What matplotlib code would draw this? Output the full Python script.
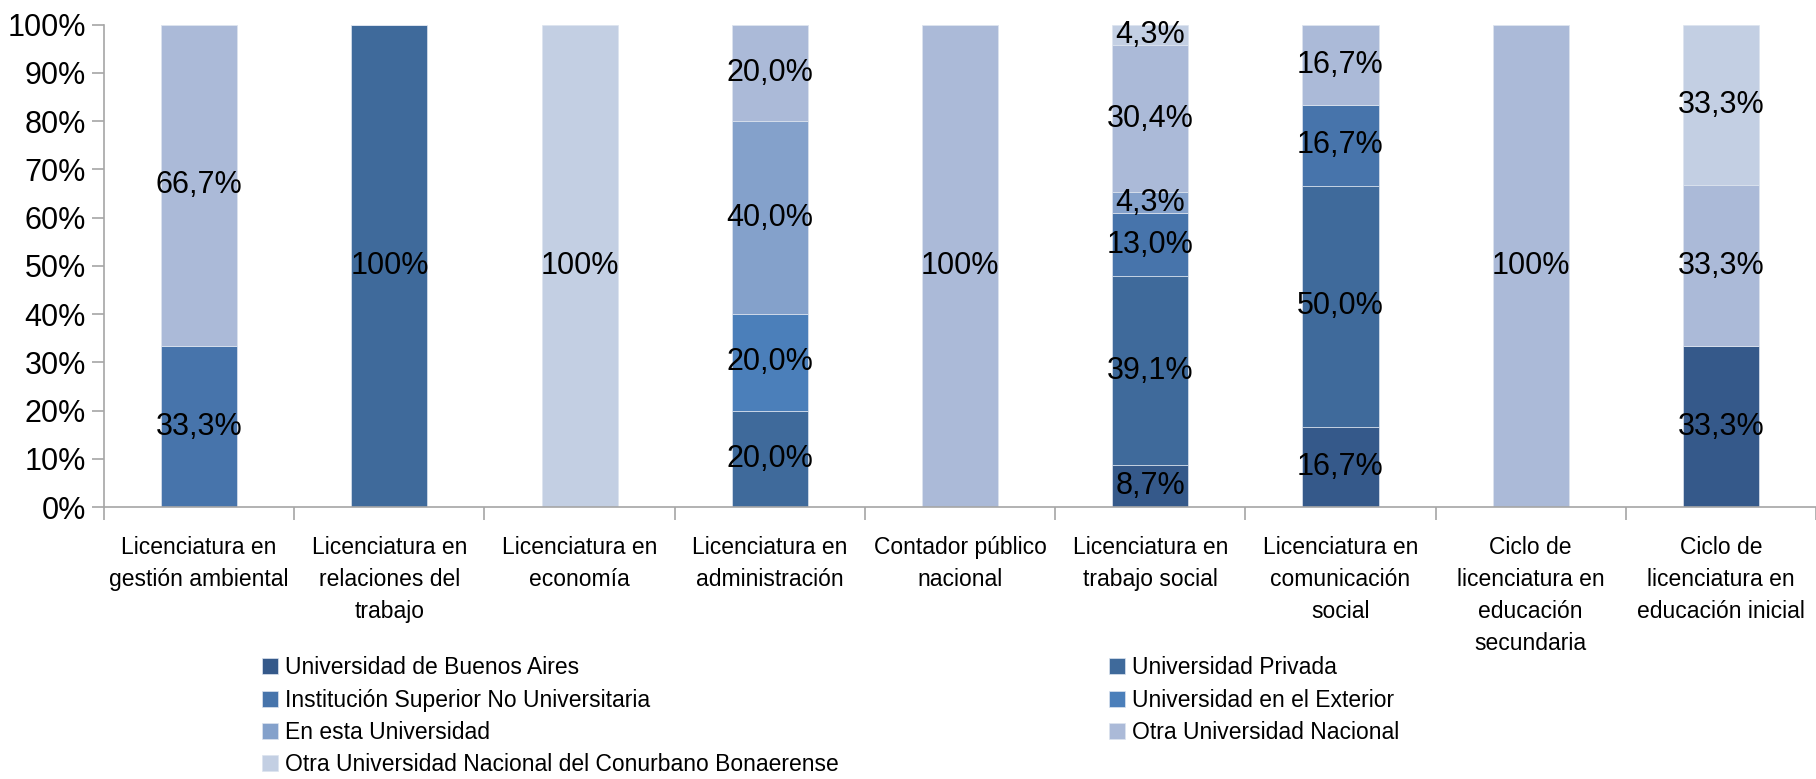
import matplotlib
matplotlib.use("Agg")
import matplotlib.pyplot as plt
import numpy as np

plt.rcParams['font.family'] = ['Liberation Sans', 'DejaVu Sans']

# ----------------------------
# Data
# ----------------------------

categories = [
    "Licenciatura en\ngestión ambiental",
    "Licenciatura en\nrelaciones del\ntrabajo",
    "Licenciatura en\neconomía",
    "Licenciatura en\nadministración",
    "Contador público\nnacional",
    "Licenciatura en\ntrabajo social",
    "Licenciatura en\ncomunicación\nsocial",
    "Ciclo de\nlicenciatura en\neducación\nsecundaria",
    "Ciclo de\nlicenciatura en\neducación inicial",
]

series_names = [
    "Universidad de Buenos Aires",
    "Universidad Privada",
    "Institución Superior No Universitaria",
    "Universidad en el Exterior",
    "En esta Universidad",
    "Otra Universidad Nacional",
    "Otra Universidad Nacional del Conurbano Bonaerense",
]

uba = [0, 0, 0, 0, 0, 8.7, 16.7, 0, 33.3]
privada = [0, 100, 0, 20.0, 0, 39.1, 50.0, 0, 0]
isnu = [33.3, 0, 0, 0, 0, 13.0, 16.7, 0, 0]
exterior = [0, 0, 0, 20.0, 0, 0, 0, 0, 0]
esta_univ = [0, 0, 0, 40.0, 0, 4.3, 0, 0, 0]
otra_un = [66.7, 0, 0, 20.0, 100, 30.4, 16.7, 100, 33.3]
conurbano = [0, 0, 100, 0, 0, 4.3, 0, 0, 33.3]

colors = ["#35598a", "#3f6a9b", "#4774ab", "#4b7fba", "#84a1cb", "#abbad8", "#c3cfe3"]

series = [uba, privada, isnu, exterior, esta_univ, otra_un, conurbano]

# ----------------------------
# Plot
# ----------------------------

fig = plt.figure(figsize=(18.16, 7.79), dpi=100)
ax = fig.add_axes([0.0573, 0.349, 0.9427, 0.6195])

x = np.arange(len(categories))
data = np.array(series, dtype=float)
totals = data.sum(axis=0)
pct = data / totals * 100

handles = []
bottom = np.zeros(len(categories))
for name, vals, shares, col in zip(series_names, data, pct, colors):
    h = ax.bar(x, shares, 0.40, bottom=bottom, color=col, label=name,
               edgecolor="#dde4ef", linewidth=0.5)
    handles.append(h)
    for i in range(len(categories)):
        if vals[i] > 0:
            if vals[i] == 100:
                txt = "100%"
            else:
                txt = f"{vals[i]:.1f}".replace(".", ",") + "%"
            ax.text(x[i], bottom[i] + shares[i] / 2, txt, ha="center", va="center",
                    fontsize=22, color="black")
    bottom += shares

ax.set_xlim(-0.5, len(categories) - 0.5)
ax.set_ylim(0, 100)
ax.set_yticks(np.arange(0, 101, 10))
ax.set_yticklabels([f"{v}%" for v in range(0, 101, 10)], fontsize=22)

ax.set_xticks(x)
ax.set_xticklabels(categories, fontsize=16.5, linespacing=1.5, va="top")
ax.tick_params(axis="x", length=0, pad=21)
ax.set_xticks(np.arange(-0.5, len(categories) + 0.5, 1), minor=True)
ax.tick_params(axis="x", which="minor", length=9, color="#a6a6a6", width=1.2)
ax.tick_params(axis="y", length=9, color="#a6a6a6", width=1.2, pad=4)

for s in ["top", "right"]:
    ax.spines[s].set_visible(False)
for s in ["left", "bottom"]:
    ax.spines[s].set_color("#a6a6a6")
    ax.spines[s].set_linewidth(1.2)

# legend reads row by row: two columns
order = [0, 2, 4, 6, 1, 3, 5]
fig.legend([handles[k] for k in order], [series_names[k] for k in order],
           loc="upper left", bbox_to_anchor=(0.138, 0.172), ncol=2, frameon=False,
           fontsize=16.5, handlelength=0.7, handleheight=0.7, handletextpad=0.3,
           columnspacing=11.8, labelspacing=0.4, borderpad=0)

plt.savefig("out.png", dpi=100)
